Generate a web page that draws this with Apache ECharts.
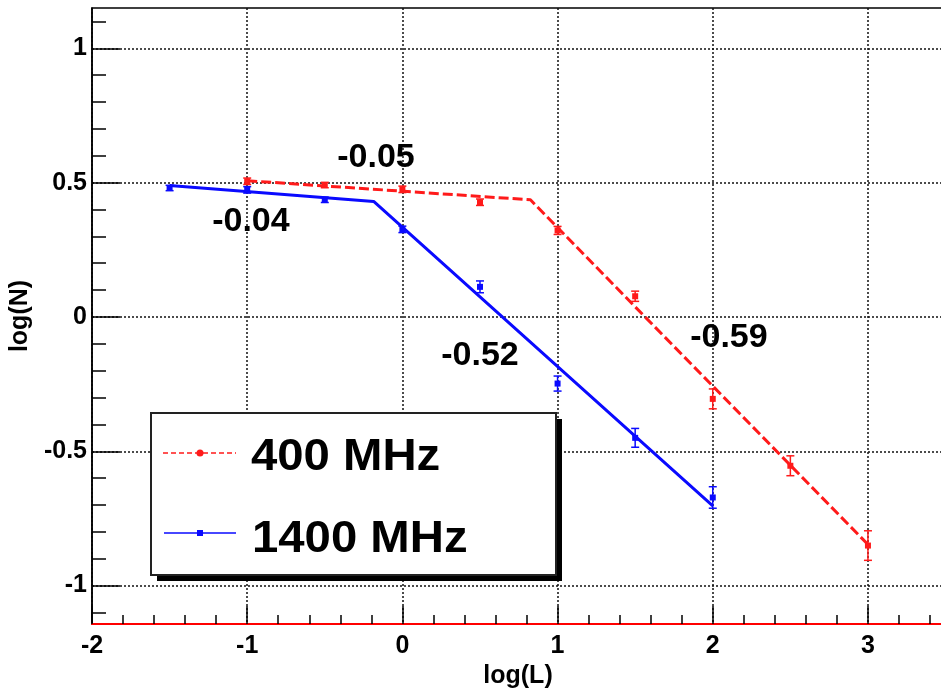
<!DOCTYPE html>
<html><head><meta charset="utf-8">
<script src="https://cdn.jsdelivr.net/npm/echarts@6/dist/echarts.min.js"></script>
<style>html,body{margin:0;padding:0;background:#fff}#c{width:941px;height:688px}</style>
</head><body><div id="c"></div>
<script>
// 400 MHz measurements
var x400 = [-1, -0.5, 0, 0.5, 1, 1.5, 2, 2.5, 3];
var y400 = [0.505, 0.491, 0.475, 0.427, 0.322, 0.077, -0.305, -0.554, -0.851];
var e400 = [0.012, 0.010, 0.012, 0.012, 0.015, 0.019, 0.037, 0.037, 0.055];
// 1400 MHz measurements
var x1400 = [-1.5, -1, -0.5, 0, 0.5, 1, 1.5, 2];
var y1400 = [0.480, 0.473, 0.436, 0.326, 0.112, -0.248, -0.450, -0.672];
var e1400 = [0.010, 0.012, 0.010, 0.012, 0.022, 0.028, 0.035, 0.040];
// broken power-law fits
var fitX400 = [-1, 0.825, 3];
var fitY400 = [0.507, 0.436, -0.847];
var fitX1400 = [-1.5, -0.185, 2];
var fitY1400 = [0.489, 0.430, -0.703];
// slope annotations
var slopeText = ['-0.05', '-0.04', '-0.52', '-0.59'];
var slopeX = [-0.17, -0.976, 0.50, 2.104];
var slopeY = [0.593, 0.355, -0.144, -0.077];
// axis ticks
var xMajor = [-2, -1, 0, 1, 2, 3];
var yMajor = [-1, -0.5, 0, 0.5, 1];
var seriesNames = ['400 MHz', '1400 MHz'];

var RED = '#ff1a1a', BLUE = '#0a0aff';
var FONT = '"Liberation Sans", Arial, Helvetica, sans-serif';

function minorVals(lo, hi, step, skip) {
  var out = [];
  var n0 = Math.ceil(lo / step - 1e-9), n1 = Math.floor(hi / step + 1e-9);
  for (var i = n0; i <= n1; i++) {
    var v = Math.round(i * step * 1000) / 1000;
    if (skip.indexOf(v) < 0) out.push(v);
  }
  return out;
}
var XMIN = -2, XMAX = 3.49, YMIN = -1.143, YMAX = 1.150;
var xMinor = minorVals(XMIN, XMAX, 0.2, xMajor);
var yMinor = minorVals(YMIN, YMAX, 0.1, yMajor);

function pairs(xs, ys, es) {
  return xs.map(function (x, i) { return es ? [x, ys[i], es[i]] : [x, ys[i]]; });
}
function errRender(color) {
  return function (params, api) {
    var x = api.value(0), y = api.value(1), e = api.value(2);
    var p = api.coord([x, y]);
    var top = api.coord([x, y + e]);
    var bot = api.coord([x, y - e]);
    var st = { stroke: color, lineWidth: 1.5 };
    return {
      type: 'group',
      children: [
        { type: 'line', shape: { x1: p[0], y1: top[1], x2: p[0], y2: bot[1] }, style: st },
        { type: 'line', shape: { x1: p[0] - 4, y1: top[1], x2: p[0] + 4, y2: top[1] }, style: st },
        { type: 'line', shape: { x1: p[0] - 4, y1: bot[1], x2: p[0] + 4, y2: bot[1] }, style: st },
        { type: 'rect', shape: { x: p[0] - 3, y: p[1] - 3, width: 6, height: 6 }, style: { fill: color } }
      ]
    };
  };
}

var chart = echarts.init(document.getElementById('c'), null, { renderer: 'canvas' });
var tickLabel = { color: '#000', fontFamily: FONT, fontWeight: 'bold', fontSize: 25 };

chart.setOption({
  animation: false,
  backgroundColor: '#fff',
  grid: { left: 92, top: 8, right: -3, bottom: 64, containLabel: false, outerBoundsMode: 'none',
    show: true, borderColor: '#000', borderWidth: 1.5, backgroundColor: 'transparent' },
  xAxis: [{
    type: 'value', min: XMIN, max: XMAX, position: 'bottom',
    name: 'log(L)', nameLocation: 'middle', nameGap: 34,
    nameTextStyle: { color: '#000', fontFamily: FONT, fontWeight: 'bold', fontSize: 25 },
    axisLine: { show: true, onZero: false, lineStyle: { color: '#ff0000', width: 2 } },
    axisTick: { show: true, inside: true, length: 18, customValues: xMajor, lineStyle: { color: '#000', width: 1.5 } },
    axisLabel: Object.assign({ margin: 10, customValues: xMajor }, tickLabel),
    splitLine: { show: true, lineStyle: { color: '#111', width: 1.5, type: [2, 2] } },
    minorTick: { show: false }
  }, {
    type: 'value', min: XMIN, max: XMAX, position: 'bottom', gridIndex: 0,
    axisLine: { show: false, onZero: false },
    axisTick: { show: true, inside: true, length: 9, customValues: xMinor, lineStyle: { color: '#000', width: 1.5 } },
    axisLabel: { show: false }, splitLine: { show: false }
  }],
  yAxis: [{
    type: 'value', min: YMIN, max: YMAX, position: 'left',
    name: 'log(N)', nameLocation: 'middle', nameGap: 56, nameRotate: 90,
    nameTextStyle: { color: '#000', fontFamily: FONT, fontWeight: 'bold', fontSize: 25 },
    axisLine: { show: true, onZero: false, lineStyle: { color: '#000', width: 1.5 } },
    axisTick: { show: true, inside: true, length: 28, customValues: yMajor, lineStyle: { color: '#000', width: 1.5 } },
    axisLabel: Object.assign({ margin: 5, customValues: yMajor }, tickLabel),
    splitLine: { show: true, lineStyle: { color: '#111', width: 1.5, type: [2, 2] } }
  }, {
    type: 'value', min: YMIN, max: YMAX, position: 'left', gridIndex: 0,
    axisLine: { show: false, onZero: false },
    axisTick: { show: true, inside: true, length: 14, customValues: yMinor, lineStyle: { color: '#000', width: 1.5 } },
    axisLabel: { show: false }, splitLine: { show: false }
  }],
  series: [
    { name: seriesNames[0] + ' fit', type: 'line', data: pairs(fitX400, fitY400), symbol: 'none', z: 3,
      lineStyle: { color: RED, width: 3, type: [10, 4] } },
    { name: seriesNames[1] + ' fit', type: 'line', data: pairs(fitX1400, fitY1400), symbol: 'none', z: 3,
      lineStyle: { color: BLUE, width: 3 } },
    { name: seriesNames[0], type: 'custom', data: pairs(x400, y400, e400), renderItem: errRender(RED), z: 4 },
    { name: seriesNames[1], type: 'custom', data: pairs(x1400, y1400, e1400), renderItem: errRender(BLUE), z: 4 },
    { type: 'scatter', symbolSize: 1, z: 5, silent: true,
      itemStyle: { color: 'rgba(0,0,0,0)' },
      data: slopeText.map(function (t, i) { return { name: t, value: [slopeX[i], slopeY[i]] }; }),
      label: { show: true, position: 'inside', formatter: '{b}', color: '#000',
        textBorderWidth: 0, textBorderColor: 'rgba(0,0,0,0)', opacity: 1,
        fontFamily: FONT, fontWeight: 'bold', fontSize: 34 } }
  ],
  graphic: [
    { type: 'rect', left: 157, top: 419, z: 100, shape: { width: 405, height: 162 }, style: { fill: '#000' } },
    { type: 'rect', left: 150, top: 412, z: 101, shape: { width: 405, height: 162 }, style: { fill: '#fff', stroke: '#222', lineWidth: 2 } },
    { type: 'line', z: 102, shape: { x1: 163, y1: 453, x2: 236, y2: 453 }, style: { stroke: RED, lineWidth: 1.5, lineDash: [5, 3] } },
    { type: 'circle', z: 102, shape: { cx: 200, cy: 453, r: 3.5 }, style: { fill: RED } },
    { type: 'line', z: 102, shape: { x1: 164, y1: 533, x2: 236, y2: 533 }, style: { stroke: BLUE, lineWidth: 1.5 } },
    { type: 'rect', z: 102, shape: { x: 197, y: 530, width: 6, height: 6 }, style: { fill: BLUE } },
    { type: 'text', z: 102, x: 251, y: 436, scaleX: 1.075, style: { text: seriesNames[0], fill: '#000', font: 'bold 44px ' + FONT, textVerticalAlign: 'top' } },
    { type: 'text', z: 102, x: 252, y: 518, scaleX: 1.075, style: { text: seriesNames[1], fill: '#000', font: 'bold 44px ' + FONT, textVerticalAlign: 'top' } }
  ]
});
</script></body></html>
